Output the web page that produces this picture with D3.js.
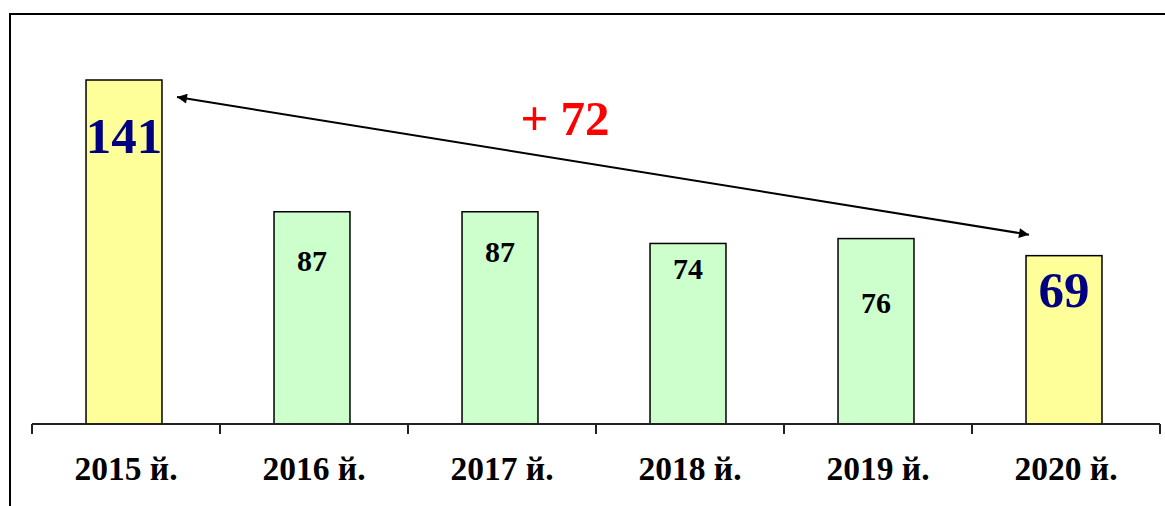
<!DOCTYPE html>
<html>
<head>
<meta charset="utf-8">
<script src="https://cdn.jsdelivr.net/npm/d3@7"></script>
<style>
  body { margin: 0; background: #fff; }
  svg { display: block; }
</style>
</head>
<body>
<div class="chart"></div>
<script>
// data
const years = ['2015 й.', '2016 й.', '2017 й.', '2018 й.', '2019 й.', '2020 й.']
const values = [141, 87, 87, 74, 76, 69]
const highlighted = ['2015 й.', '2020 й.']

// look
const YELLOW = '#ffff99'
const GREEN = '#ccffcc'
const NAVY = '#000080'
const FONT = '"Times New Roman", Times, "Liberation Serif", serif'
// hand-placed label offsets below each bar top, like the original
const labelDy = [73, 59, 50, 36, 74, 51]

const W = 1165
const H = 506
const baseY = 424

const svg = d3.select('.chart').append('svg')
  .attr('width', W)
  .attr('height', H)

// frame (runs off the right and bottom edges)
svg.append('rect')
  .attr('x', 10)
  .attr('y', 14)
  .attr('width', W + 20)
  .attr('height', H + 20)
  .attr('fill', 'none')
  .attr('stroke', '#000')
  .attr('stroke-width', 2)

const x = d3.scaleBand()
  .domain(years)
  .range([32, 1160])
  .paddingInner(0.596)
  .paddingOuter(0.298)

const y = d3.scaleLinear()
  .domain([0, d3.max(values)])
  .range([baseY, 80])

const isHi = d => highlighted.includes(d)

// bars sit a touch left of the band centre in the original
const bars = svg.append('g').attr('transform', 'translate(-2,0)')

bars.selectAll('rect')
  .data(years)
  .join('rect')
    .attr('x', d => x(d))
    .attr('y', (d, i) => y(values[i]))
    .attr('width', x.bandwidth())
    .attr('height', (d, i) => baseY - y(values[i]))
    .attr('fill', d => isHi(d) ? YELLOW : GREEN)
    .attr('stroke', '#000')
    .attr('stroke-width', 1.5)

// value labels
bars.selectAll('text')
  .data(years)
  .join('text')
    .attr('x', d => x(d) + x.bandwidth() / 2)
    .attr('y', (d, i) => y(values[i]) + labelDy[i])
    .attr('text-anchor', 'middle')
    .attr('font-family', FONT)
    .attr('font-weight', 'bold')
    .attr('font-size', d => isHi(d) ? 51 : 30)
    .attr('fill', d => isHi(d) ? NAVY : '#000')
    .text((d, i) => values[i])

// x axis: labels from d3, boundary ticks drawn by step
const axis = svg.append('g')
  .attr('transform', `translate(0,${baseY})`)
  .call(d3.axisBottom(x).tickSize(0).tickPadding(0))
axis.select('.domain').remove()
axis.selectAll('.tick text')
  .attr('y', 56)
  .attr('dy', 0)
  .attr('font-family', FONT)
  .attr('font-weight', 'bold')
  .attr('font-size', 33.5)
  .attr('fill', '#000')

const [r0, r1] = x.range()
axis.append('line')
  .attr('x1', r0)
  .attr('x2', r1)
  .attr('stroke', '#222')
  .attr('stroke-width', 2)
axis.selectAll('line.bound')
  .data(d3.range(years.length + 1))
  .join('line')
    .attr('class', 'bound')
    .attr('x1', i => r0 + i * x.step())
    .attr('x2', i => r0 + i * x.step())
    .attr('y1', 0)
    .attr('y2', 10)
    .attr('stroke', '#222')
    .attr('stroke-width', 2)

// double-headed arrow between first and last bar
const defs = svg.append('defs')
defs.append('marker')
  .attr('id', 'head')
  .attr('viewBox', '0 0 10 10')
  .attr('refX', 10)
  .attr('refY', 5)
  .attr('markerWidth', 7)
  .attr('markerHeight', 5)
  .attr('orient', 'auto-start-reverse')
  .append('path')
    .attr('d', 'M0,0L10,5L0,10Z')
    .attr('fill', '#000')

const first = years[0]
const last = years[years.length - 1]
const ax1 = x(first) + x.bandwidth() + 13
const ay1 = y(values[0]) + 17
const ax2 = x(last) + 1
const ay2 = y(values[values.length - 1]) - 21

svg.append('line')
  .attr('x1', ax1)
  .attr('y1', ay1)
  .attr('x2', ax2)
  .attr('y2', ay2)
  .attr('stroke', '#000')
  .attr('stroke-width', 2)
  .attr('marker-start', 'url(#head)')
  .attr('marker-end', 'url(#head)')

// change label
const diff = values[0] - values[values.length - 1]
svg.append('text')
  .attr('x', 565)
  .attr('y', 135)
  .attr('text-anchor', 'middle')
  .attr('font-family', FONT)
  .attr('font-weight', 'bold')
  .attr('font-size', 49)
  .attr('fill', '#ff0000')
  .text(`+ ${diff}`)
</script>
</body>
</html>
